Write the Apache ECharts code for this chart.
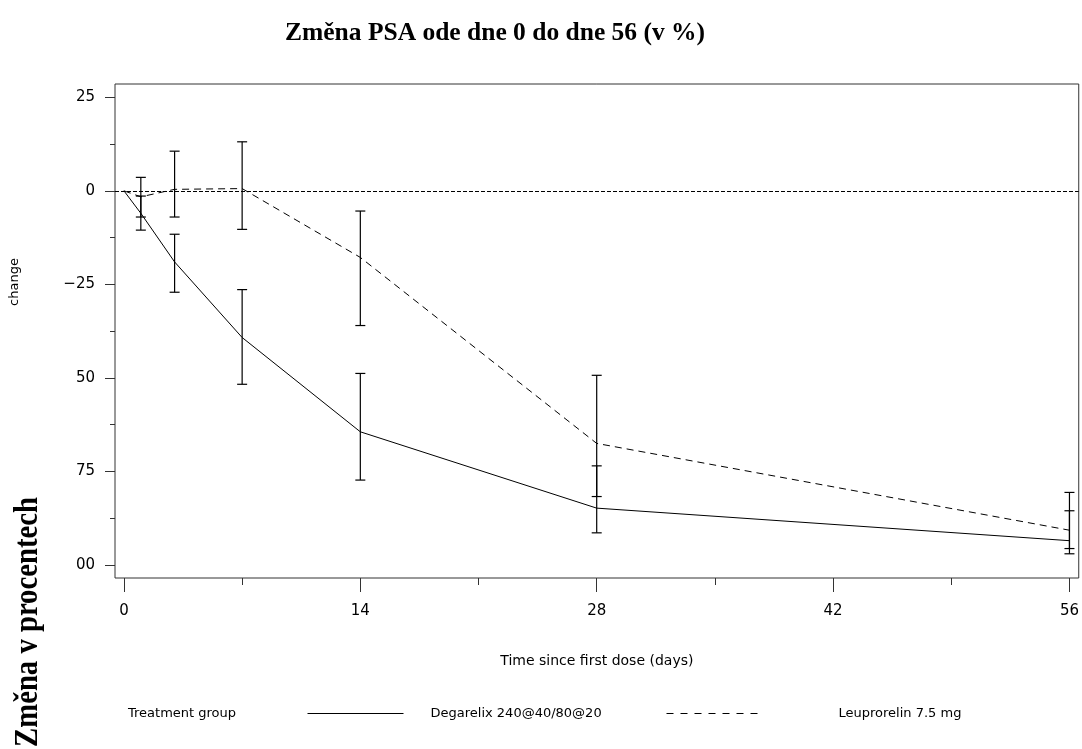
<!DOCTYPE html>
<html>
<head>
<meta charset="utf-8">
<script src="https://cdn.jsdelivr.net/npm/echarts@6/dist/echarts.min.js"></script>
<style>
html,body{margin:0;padding:0;background:#fff;}
#chart{width:1082px;height:749px;}
</style>
</head>
<body>
<div id="chart"></div>
<script>
// ---- data ----
const days = [0, 1, 3, 7, 14, 28, 56];
const degMean  = [0, -6.0, -19.0, -39.2, -64.4, -84.8, -93.5];
const degLower = [null, -10.5, -27.1, -51.7, -77.3, -91.4, -97.0];
const degUpper = [null, -1.4, -11.6, -26.4, -48.8, -73.5, -85.5];
const leupMean  = [0, -1.6, 0.4, 0.6, -17.8, -67.5, -90.7];
const leupLower = [null, -7.0, -7.0, -10.3, -36.0, -81.7, -95.6];
const leupUpper = [null, 3.6, 10.6, 13.1, -5.4, -49.3, -80.6];
const xMajorTicks = [0, 14, 28, 42, 56];
const xMinorTicks = [7, 21, 35, 49];
const yMajorTicks = [25, 0, -25, -50, -75, -100];
const yMinorTicks = [12.5, -12.5, -37.5, -62.5, -87.5];
const seriesNames = ['Degarelix 240@40/80@20', 'Leuprorelin 7.5 mg'];

const font = 'DejaVu Sans';
const pair = (m) => days.map((d, i) => [d, m[i]]);
const bars = (lo, hi) => days.map((d, i) => [d, lo[i], hi[i]]).filter(r => r[1] !== null);

function errRender(params, api) {
  const x = api.value(0);
  const lo = api.coord([x, api.value(1)]);
  const hi = api.coord([x, api.value(2)]);
  const w = 5;
  const st = { stroke: '#000', lineWidth: 1.2 };
  return {
    type: 'group',
    children: [
      { type: 'line', shape: { x1: lo[0], y1: lo[1], x2: hi[0], y2: hi[1] }, style: st },
      { type: 'line', shape: { x1: lo[0] - w, y1: lo[1], x2: lo[0] + w, y2: lo[1] }, style: st },
      { type: 'line', shape: { x1: hi[0] - w, y1: hi[1], x2: hi[0] + w, y2: hi[1] }, style: st }
    ]
  };
}

const chart = echarts.init(document.getElementById('chart'), null, { renderer: 'canvas' });
const fmtY = v => (v < 0 ? '\u2212' + (-v) : String(v));

const legendCommon = {
  top: 707, itemHeight: 14, padding: 0,
  itemStyle: { opacity: 0 },
  textStyle: { fontFamily: font, fontSize: 13, color: '#000' }
};

const option = {
  backgroundColor: '#fff',
  animation: false,
  title: {
    text: 'Změna PSA ode dne 0 do dne 56 (v %)',
    left: 280, top: 15,
    textStyle: { fontFamily: 'Liberation Serif', fontWeight: 'bold', fontSize: 25.5, color: '#000' }
  },
  grid: { left: 115, top: 84, right: 3, bottom: 171, show: true, borderColor: '#333', borderWidth: 1, backgroundColor: 'transparent' },
  legend: [
    Object.assign({}, legendCommon, {
      data: [seriesNames[0]], left: 307, itemWidth: 96,
      lineStyle: { width: 1, type: 'solid', color: '#000' },
      textStyle: Object.assign({}, legendCommon.textStyle, { padding: [0, 0, 0, 22] })
    }),
    Object.assign({}, legendCommon, {
      data: [seriesNames[1]], left: 666, itemWidth: 93,
      lineStyle: { width: 1, type: [7, 7], color: '#000' },
      textStyle: Object.assign({}, legendCommon.textStyle, { padding: [0, 0, 0, 74] })
    })
  ],
  xAxis: [
    {
      type: 'value', min: -0.53, max: 56.55, position: 'bottom',
      name: 'Time since first dose (days)', nameLocation: 'middle', nameGap: 76,
      nameTextStyle: { fontFamily: font, fontSize: 14, color: '#000' },
      axisLine: { show: false, onZero: false },
      splitLine: { show: false },
      axisTick: { show: true, inside: false, length: 14, customValues: xMajorTicks, lineStyle: { color: '#333' } },
      axisLabel: { show: true, customValues: xMajorTicks, margin: 26, fontFamily: font, fontSize: 15, color: '#000' }
    },
    {
      type: 'value', min: -0.53, max: 56.55, position: 'bottom', offset: 0,
      axisLine: { show: false, onZero: false }, splitLine: { show: false },
      axisTick: { show: true, inside: false, length: 7, customValues: xMinorTicks, lineStyle: { color: '#333' } },
      axisLabel: { show: false }
    }
  ],
  yAxis: [
    {
      type: 'value', min: -103.47, max: 28.55, position: 'left',
      axisLine: { show: false, onZero: false }, splitLine: { show: false },
      axisTick: { show: true, inside: false, length: 10, customValues: yMajorTicks, lineStyle: { color: '#333' } },
      axisLabel: { show: true, customValues: yMajorTicks, margin: 20, formatter: fmtY, fontFamily: font, fontSize: 15, color: '#000' }
    },
    {
      type: 'value', min: -103.47, max: 28.55, position: 'left', offset: 0,
      axisLine: { show: false, onZero: false }, splitLine: { show: false },
      axisTick: { show: true, inside: false, length: 5, customValues: yMinorTicks, lineStyle: { color: '#333' } },
      axisLabel: { show: false }
    }
  ],
  series: [
    {
      name: seriesNames[0], type: 'line', data: pair(degMean), symbol: 'none',
      lineStyle: { color: '#000', width: 1, type: 'solid' }, itemStyle: { color: '#000' },
      markLine: {
        silent: true, symbol: 'none', label: { show: false },
        lineStyle: { color: '#000', width: 1, type: [4, 2] },
        data: [{ yAxis: 0 }]
      },
      z: 3
    },
    {
      name: seriesNames[1], type: 'line', data: pair(leupMean), symbol: 'none',
      lineStyle: { color: '#000', width: 1, type: [7, 5] }, itemStyle: { color: '#000' },
      z: 3
    },
    { type: 'custom', renderItem: errRender, data: bars(degLower, degUpper), z: 4 },
    { type: 'custom', renderItem: errRender, data: bars(leupLower, leupUpper), z: 4 }
  ],
  graphic: [
    { type: 'text', left: 128, top: 707, style: { text: 'Treatment group', fontFamily: font, fontSize: 13, fill: '#000' } },
    { type: 'text', x: 15, y: 282, rotation: Math.PI / 2,
      style: { text: 'change', fontFamily: font, fontSize: 13, fill: '#000', align: 'center', verticalAlign: 'middle' } },
    { type: 'rect', shape: { x: 0, y: 335, width: 76, height: 414 }, style: { fill: '#fff' }, z: 100 },
    { type: 'text', x: 28, y: 622, rotation: Math.PI / 2, scaleX: 0.87, z: 101,
      style: { text: 'Změna v procentech', fontFamily: 'Liberation Serif', fontWeight: 'bold', fontSize: 33, fill: '#000', align: 'center', verticalAlign: 'middle' } }
  ]
};
chart.setOption(option);
</script>
</body>
</html>
